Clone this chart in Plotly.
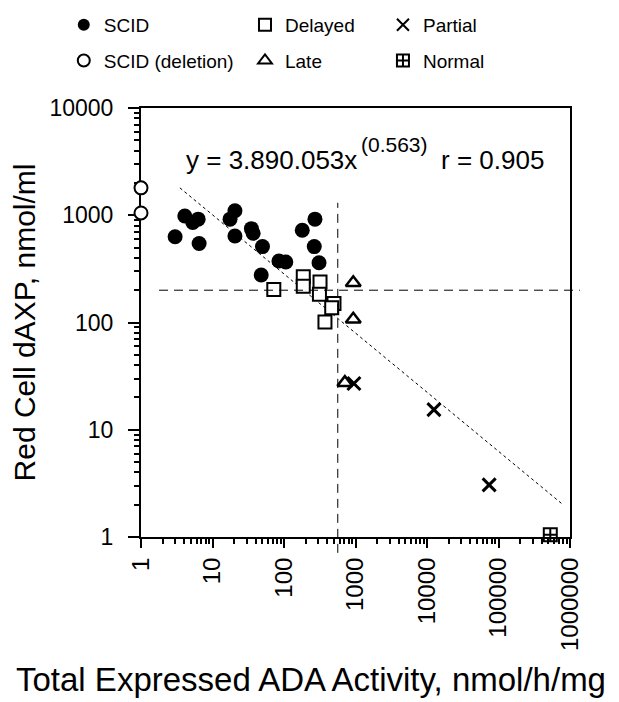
import plotly.graph_objects as go

# -----------------------------
# DATA
# -----------------------------
scid_x = [3, 4.1, 5.3, 6.3, 6.5, 17.6, 20.6, 20.6, 35, 37, 50, 48, 85, 106, 180, 271, 265, 309]
scid_y = [630, 985, 855, 920, 545, 920, 1100, 640, 750, 680, 510, 277, 374, 366, 724, 920, 510, 361]

scid_del_x = [1, 1]
scid_del_y = [1800, 1050]

delayed_x = [72, 186, 186, 319, 313, 500, 465, 374]
delayed_y = [203, 267, 218, 238, 183, 150, 137, 101]

late_x = [930, 930, 710]
late_y = [235, 107, 27.5]

partial_x = [950, 12500, 74000]
partial_y = [27, 15.4, 3.06]

normal_x = [530000]
normal_y = [1.05]

# regression line end points
fit_x = [3.5, 765000]
fit_y = [1800, 2.05]

# reference cut-offs
cut_x = 565
cut_y = 200

x_ticks = [1, 10, 100, 1000, 10000, 100000, 1000000]
y_ticks = [1, 10, 100, 1000, 10000]

FONT = "Arial, Liberation Sans, Helvetica, sans-serif"

fig = go.Figure()

# fit line (dotted)
fig.add_trace(go.Scatter(
    x=fit_x, y=fit_y, mode="lines",
    line=dict(color="black", width=1, dash="dot"),
    showlegend=False, hoverinfo="skip"
))

def add_group(x, y, name, symbol, size, legend, fill="black", lw=0):
    fig.add_trace(go.Scatter(
        x=x, y=y, mode="markers", name=name,
        legend=legend, legendgroup=name,
        cliponaxis=False,
        marker=dict(symbol=symbol, size=size, color=fill,
                    line=dict(color="black", width=lw))
    ))

add_group(scid_x, scid_y, "SCID", "circle", 15, "legend")
add_group(scid_del_x, scid_del_y, "SCID (deletion)", "circle", 13, "legend", fill="white", lw=2)
add_group(delayed_x, delayed_y, "Delayed", "square", 13, "legend2", fill="white", lw=2)
add_group(late_x, late_y, "Late", "triangle-up-open", 13, "legend2", lw=2.5)
add_group(partial_x, partial_y, "Partial", "x-thin-open", 13, "legend3", lw=3)
add_group(normal_x, normal_y, "Normal", "square-cross-open", 13, "legend3", lw=2)

# dashed cut-off lines
fig.add_shape(type="line", xref="x", yref="y domain",
              x0=cut_x, x1=cut_x, y0=-0.037, y1=0.779,
              line=dict(color="black", width=1, dash="9px,6px"))
fig.add_shape(type="line", xref="x domain", yref="y",
              x0=0.042, x1=1.023, y0=cut_y, y1=cut_y,
              line=dict(color="black", width=1, dash="9px,6px"))

# equation text
fig.add_annotation(text="y = 3.890.053x", xref="paper", yref="paper",
                   x=0.100, y=0.879, xanchor="left", yanchor="middle",
                   showarrow=False, font=dict(size=26, color="black", family=FONT))
fig.add_annotation(text="(0.563)", xref="paper", yref="paper",
                   x=0.508, y=0.916, xanchor="left", yanchor="middle",
                   showarrow=False, font=dict(size=21, color="black", family=FONT))
fig.add_annotation(text="r = 0.905", xref="paper", yref="paper",
                   x=0.694, y=0.879, xanchor="left", yanchor="middle",
                   showarrow=False, font=dict(size=26, color="black", family=FONT))

# x axis title (centred on the page, not on the plot area)
fig.add_annotation(text="Total Expressed ADA Activity, nmol/h/mg",
                   xref="paper", yref="paper", x=0.396, y=-0.333,
                   xanchor="center", yanchor="middle", showarrow=False,
                   font=dict(size=33, color="black", family=FONT))

legend_common = dict(
    orientation="v", yanchor="top", xanchor="left",
    font=dict(size=19, color="black", family=FONT),
    bgcolor="rgba(0,0,0,0)", tracegroupgap=8, itemsizing="constant"
)

# the page body adds an 8px margin, so the figure is 8px smaller each way
fig.update_layout(
    width=611, height=694,
    margin=dict(l=133, r=49, t=100, b=165, autoexpand=False),
    paper_bgcolor="white", plot_bgcolor="white",
    font=dict(family=FONT, color="black"),
    legend=dict(x=-0.180, y=1.238, **legend_common),
    legend2=dict(x=0.2424, y=1.238, **legend_common),
    legend3=dict(x=0.564, y=1.238, **legend_common),
    xaxis=dict(
        type="log", range=[0, 6], automargin=False,
        tickvals=x_ticks, ticktext=[str(v) for v in x_ticks],
        tickangle=-90, tickfont=dict(size=24),
        ticks="outside", ticklen=9, tickwidth=2, tickcolor="black",
        minor=dict(ticks="outside", ticklen=5, tickwidth=1.5, tickcolor="black",
                   dtick="D1"),
        showline=True, linecolor="black", linewidth=2, mirror=True,
        showgrid=False, zeroline=False, layer="below traces",
    ),
    yaxis=dict(
        type="log", range=[0, 4], automargin=False,
        tickvals=y_ticks, ticktext=[str(v) for v in y_ticks],
        tickfont=dict(size=23), ticklabelstandoff=10,
        ticks="outside", ticklen=11, tickwidth=2, tickcolor="black",
        minor=dict(ticks="outside", ticklen=5, tickwidth=1.5, tickcolor="black",
                   dtick="D1"),
        showline=True, linecolor="black", linewidth=2, mirror=True,
        showgrid=False, zeroline=False, layer="below traces",
        title=dict(text="Red Cell dAXP, nmol/ml", font=dict(size=30), standoff=6),
    ),
)

fig.write_html("out.html")
